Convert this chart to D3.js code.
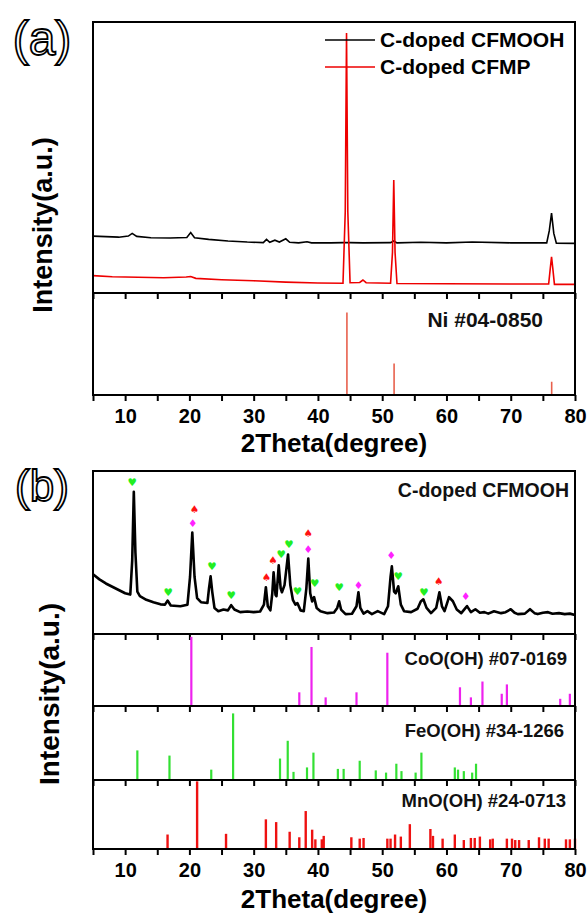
<!DOCTYPE html>
<html>
<head>
<meta charset="utf-8">
<script src="https://cdn.jsdelivr.net/npm/d3@7"></script>
<style>
  body { margin: 0; background: #fff; }
  svg { font-family: "Liberation Sans", Arial, sans-serif; }
</style>
</head>
<body>
<div id="chart"></div>
<script>
// ---- data (2theta, intensity in a.u.) ----
var xTicks = [5, 10, 15, 20, 25, 30, 35, 40, 45, 50, 55, 60, 65, 70, 75, 80];

// panel (a)
var cfmoohA = [[5,21.0],[7,20.8],[9,20.6],[10.5,21.0],[11.1,22.0],[11.8,20.9],[14,20.4],[17,20.3],[19.6,20.5],[20.2,22.3],[20.8,20.4],
  [23,19.8],[26,19.2],[29,18.8],[31.5,18.6],[32,19.8],[32.5,18.7],[33.3,19.5],[34,18.8],[35,20.0],[35.6,18.7],[37,18.5],[38.3,18.9],
  [39,18.5],[42,18.5],[43.9,18.6],[45,18.6],[47,18.5],[51.3,18.6],[51.8,19.2],[52.3,18.5],[56,18.7],[60,18.5],[64,18.8],
  [70,18.5],[75.6,18.5],[76.0,23],[76.35,29.5],[76.7,22],[77.1,18.4],[80,18.3]];
var cfmpA = [[5,6.4],[8,6.0],[12,5.8],[16,5.6],[19.5,5.9],[20.2,6.1],[21,5.4],[25,4.9],[30,4.5],[35,4.0],[40,3.7],[43.9,3.6],
  [44.25,30],[44.45,95.9],[44.65,30],[45.0,3.8],[46.5,3.9],[47.0,4.8],[47.5,3.8],[51.3,3.6],[51.6,15],[51.8,41.7],[52.0,15],
  [52.3,3.5],[60,3.4],[70,3.3],[75.9,3.3],[76.15,9],[76.35,13.3],[76.55,9],[76.8,3.2],[80,3.2]];
var niPos = [44.51, 51.85, 76.37];
var niInt = [81, 31, 13];

// panel (b)
var cfmoohB = [[5,36.6],[6,33.5],[7,31],[8,29],[9,27],[10,25],[10.8,24.2],[11.1,45],[11.35,87.2],[11.6,50],[11.9,26],[12.3,23.2],
  [13.3,21],[14.4,19.5],[15.5,18.2],[16.2,18],[16.6,20.5],[17.1,17.5],[18.6,17],[19.7,18],[20.1,35],[20.45,62.2],[20.8,35],
  [21.2,22],[21.8,19.5],[22.8,19],[23.05,28],[23.3,35.4],[23.55,26],[23.9,16],[24.5,14],[25.3,15],[26.0,14.5],[26.5,17.7],
  [27,15],[27.9,13.4],[29,13.8],[30,13.4],[31,13.8],[31.6,18],[31.9,28.7],[32.2,17],[32.6,14.5],[32.9,25],[33.1,37.8],
  [33.4,24],[33.55,23.2],[33.9,42.1],[34.2,28],[34.4,25.6],[34.8,30],[35.35,48.8],[35.7,30],[36.1,21],[36.5,18],[36.8,19],
  [37.3,14.5],[37.8,14],[38.2,28],[38.5,46.3],[38.8,25],[39.1,20],[39.4,22.6],[39.8,16],[40.4,14],[41.5,12.8],[42.5,13.2],
  [43.0,16],[43.3,20.1],[43.6,15],[44.3,12.2],[45.3,12.4],[46,17],[46.3,25.6],[46.6,16],[47.1,12.5],[47.7,14],[48.4,12.2],
  [49.3,14],[50.3,12.2],[50.9,17],[51.3,35],[51.5,41.5],[51.85,26],[52.1,25],[52.5,29.3],[52.9,18],[53.4,14],[54.5,13.4],
  [55.5,15.5],[56.0,20],[56.4,21.3],[56.9,16],[57.6,12.8],[58.4,16],[58.9,25.6],[59.3,17],[59.7,14],[60.1,19],[60.4,22.6],
  [61.0,20.1],[61.6,15],[62.3,12.8],[63.2,17.1],[63.8,13.4],[64.5,15.2],[65.2,13],[65.9,13.4],[66.5,12.5],[67.4,14],[68.5,12.8],
  [69.2,13.4],[70.0,15.2],[70.6,13],[71.1,12.2],[72.2,12.5],[73.0,15.2],[73.7,12.8],[74.2,12.2],[75,13],[75.8,13.4],[76.5,12.4],
  [77.5,12.8],[78.4,12.2],[79.2,12.5],[80,11.6]];

// phase markers: hearts = FeO(OH), spades = MnO(OH), diamonds = CoO(OH)
var heartPos = [[11.1,93.3],[16.7,25.6],[23.5,41.5],[26.5,23.8],[34.3,48.8],[35.5,55.5],[36.8,26.2],[39.5,31.1],[43.3,28.7],[52.5,35.4],[56.5,25.6]];
var spadePos = [[20.8,76.8],[32.0,34.8],[33.0,45.7],[38.5,62.2],[58.8,32.3]];
var diamondPos = [[20.5,68.0],[38.5,52.4],[46.3,29.9],[51.4,48.2],[63.0,23.2]];

var cooohPos = [20.3, 37.1, 39.0, 41.2, 46.0, 50.8, 62.1, 63.8, 65.6, 68.6, 69.4, 77.7, 79.2];
var cooohInt = [96, 19, 82, 12, 19, 74, 26, 12, 34, 17, 30, 10, 17];

var feoohPos = [11.9, 16.9, 23.4, 26.8, 34.1, 35.3, 36.2, 38.3, 39.3, 43.1, 44.0, 46.5, 49.0, 50.6, 52.2, 53.0, 55.2, 56.1, 61.3, 61.8, 62.7, 64.0, 64.6];
var feoohInt = [40, 33, 14, 90, 29, 53, 11, 17, 37, 15, 15, 26, 13, 10, 22, 12, 10, 37, 17, 14, 12, 10, 22];

var mnoohPos = [16.6, 21.2, 25.7, 31.9, 33.5, 35.6, 37.1, 38.1, 39.1, 39.6, 40.6, 40.9, 45.2, 46.5, 47.1, 50.8, 51.3, 52.0, 52.9, 54.3,
  57.5, 57.9, 59.4, 61.3, 62.7, 63.8, 64.4, 65.2, 66.8, 67.2, 69.4, 70.2, 70.7, 71.3, 72.8, 74.4, 75.3, 75.9, 78.6, 79.2, 80.0];
var mnoohInt = [21, 98, 22, 43, 39, 25, 17, 55, 28, 14, 14, 19, 17, 15, 16, 15, 15, 21, 18, 36,
  29, 19, 15, 21, 13, 16, 16, 18, 14, 15, 15, 15, 13, 13, 13, 17, 15, 15, 14, 14, 15];

// ---- drawing ----
var W = 588, H = 917;
var left = 93, right = 575;
var svg = d3.select("#chart").append("svg").attr("width", W).attr("height", H);

var x = d3.scaleLinear().domain([5, 80]).range([left, right]);

function panel(top, bottom, showLabels) {
  var y = d3.scaleLinear().domain([0, 100]).range([bottom, top]);
  var g = svg.append("g");
  var ax = d3.axisBottom(x).tickValues(xTicks).tickSize(6).tickSizeOuter(0)
    .tickFormat(function(d) { return (showLabels && d % 10 === 0) ? d : ""; });
  var a = g.append("g").attr("transform", "translate(0," + bottom + ")").call(ax);
  a.select(".domain").remove();
  a.selectAll(".tick line").attr("stroke", "#000").attr("stroke-width", 2);
  a.selectAll(".tick text").attr("font-size", 20).attr("font-weight", "bold").attr("fill", "#000")
    .attr("y", 9).attr("dy", "0.95em");
  return { g: g, y: y, top: top, bottom: bottom };
}

function frame(top, bottom) {
  svg.append("rect").attr("x", left).attr("y", top).attr("width", right - left).attr("height", bottom - top)
    .attr("fill", "none").attr("stroke", "#000").attr("stroke-width", 2);
}

function sticks(p, pos, ints, color, w) {
  p.g.selectAll(null).data(pos).enter().append("line")
    .attr("x1", function(d) { return x(d); }).attr("x2", function(d) { return x(d); })
    .attr("y1", p.y(0)).attr("y2", function(d, i) { return p.y(ints[i]); })
    .attr("stroke", color).attr("stroke-width", w);
}

function label(txt, xr, yb, size) {
  svg.append("text").attr("x", xr).attr("y", yb).attr("text-anchor", "end")
    .attr("font-size", size).attr("font-weight", "bold").attr("fill", "#111")
    .text(txt);
}

// panel (a)
var pA = panel(22, 293, false);
var pNi = panel(293, 395, true);
pA.g.append("path").datum(cfmoohA)
  .attr("d", d3.line().x(function(d) { return x(d[0]); }).y(function(d) { return pA.y(d[1]); }))
  .attr("fill", "none").attr("stroke", "#000").attr("stroke-width", 1.6);
pA.g.append("path").datum(cfmpA)
  .attr("d", d3.line().x(function(d) { return x(d[0]); }).y(function(d) { return pA.y(d[1]); }))
  .attr("fill", "none").attr("stroke", "#ee0000").attr("stroke-width", 1.6);
sticks(pNi, niPos, niInt, "#e8604c", 1.6);
frame(22, 293);
frame(293, 395);

// legend (a)
var legend = [["C-doped CFMOOH", "#000", 40], ["C-doped CFMP", "#ee0000", 67]];
legend.forEach(function(l) {
  svg.append("line").attr("x1", 325).attr("x2", 375).attr("y1", l[2]).attr("y2", l[2])
    .attr("stroke", l[1]).attr("stroke-width", 1.6);
  svg.append("text").attr("x", 380).attr("y", l[2] + 7).attr("font-size", 21).attr("font-weight", "bold")
    .attr("fill", "#000").text(l[0]);
});
label("Ni #04-0850", 543, 327, 21);

// panel (b)
var pB = panel(471, 634, false);
var pCo = panel(634, 706, false);
var pFe = panel(706, 780, false);
var pMn = panel(780, 849, true);
pB.g.append("path").datum(cfmoohB)
  .attr("d", d3.line().x(function(d) { return x(d[0]); }).y(function(d) { return pB.y(d[1]); }))
  .attr("fill", "none").attr("stroke", "#000").attr("stroke-width", 2.6).attr("stroke-linejoin", "round");

function marks(data, glyph, color) {
  pB.g.selectAll(null).data(data).enter().append("text")
    .attr("x", function(d) { return x(d[0]); }).attr("y", function(d) { return pB.y(d[1]); })
    .attr("text-anchor", "middle").attr("dominant-baseline", "central")
    .attr("font-family", "DejaVu Sans").attr("font-size", 10.5).attr("fill", color).text(glyph);
}
marks(heartPos, "\u2665", "#22ee22");
marks(spadePos, "\u2660", "#ff1111");
marks(diamondPos, "\u2666", "#ff22ff");

sticks(pCo, cooohPos, cooohInt, "#ee22ee", 2.2);
sticks(pFe, feoohPos, feoohInt, "#33e033", 2.2);
sticks(pMn, mnoohPos, mnoohInt, "#ee1111", 2.4);
frame(471, 634);
frame(634, 706);
frame(706, 780);
frame(780, 849);

label("C-doped CFMOOH", 569, 497, 19.5);
label("CoO(OH) #07-0169", 567, 665, 18.5);
label("FeO(OH) #34-1266", 564, 737, 18.5);
label("MnO(OH) #24-0713", 566, 807, 18.5);

// axis titles
[452, 908].forEach(function(t) {
  svg.append("text").attr("x", (left + right) / 2).attr("y", t).attr("text-anchor", "middle")
    .attr("font-size", 26).attr("font-weight", "bold").attr("fill", "#000").text("2Theta(degree)");
});
[[52, 225, 27], [59, 694, 28]].forEach(function(t) {
  svg.append("text").attr("transform", "translate(" + t[0] + "," + t[1] + ") rotate(-90)")
    .attr("text-anchor", "middle").attr("font-size", t[2]).attr("font-weight", "bold").attr("fill", "#000")
    .text("Intensity(a.u.)");
});

// panel letters, outlined
[["(a)", 55, 48], ["(b)", 501, 44]].forEach(function(t) {
  svg.append("text").attr("x", 42).attr("y", t[1]).attr("text-anchor", "middle")
    .attr("font-size", t[2]).attr("fill", "#fff").attr("stroke", "#000").attr("stroke-width", 1.8)
    .text(t[0]);
});
</script>
</body>
</html>
